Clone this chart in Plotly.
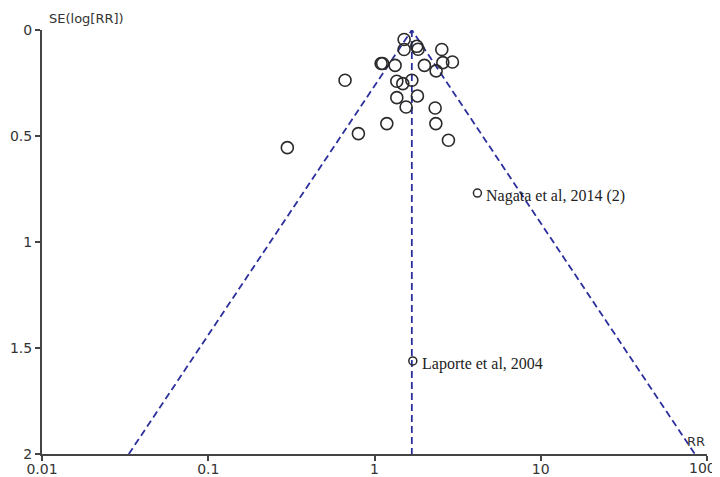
import math
import plotly.graph_objects as go

# Study estimates (risk ratio, standard error of log RR)
rr = [1.507, 1.507, 1.797, 1.829, 2.54, 1.096, 1.119, 1.33, 1.996, 2.348,
      2.576, 2.943, 0.665, 1.362, 1.48, 1.677, 1.362, 1.812, 1.549, 2.316,
      1.186, 2.339, 0.80, 2.784, 0.299]
se = [0.045, 0.092, 0.077, 0.091, 0.092, 0.158, 0.158, 0.167, 0.167, 0.193,
      0.154, 0.151, 0.237, 0.242, 0.253, 0.237, 0.319, 0.311, 0.363, 0.368,
      0.4415, 0.4415, 0.489, 0.520, 0.555]

labelled_names = ["Nagata et al, 2014 (2)", "Laporte et al, 2004"]
labelled_rr = [4.16, 1.70]
labelled_se = [0.769, 1.561]

pooled_rr = 1.677
se_max = 2.0
x_ticks = [0.01, 0.1, 1, 10, 100]
x_tick_text = ["0.01", "0.1", "1", "10", "100"]
y_ticks = [0, 0.5, 1, 1.5, 2]
y_tick_text = ["0", "0.5", "1", "1.5", "2"]

line_col = "#2b2f9c"
axis_col = "#444444"
mark_col = "#2a2a2a"

fig = go.Figure()

# funnel limits
lo = pooled_rr * math.exp(-1.96 * se_max)
hi = pooled_rr * math.exp(1.96 * se_max)
fig.add_trace(go.Scatter(x=[lo, pooled_rr, hi], y=[se_max, 0, se_max], mode="lines",
                         line=dict(color=line_col, width=1.8, dash="7px,4px"),
                         hoverinfo="skip", showlegend=False, cliponaxis=False))
fig.add_trace(go.Scatter(x=[pooled_rr, pooled_rr], y=[0, se_max], mode="lines",
                         line=dict(color=line_col, width=1.8, dash="7px,4px"),
                         hoverinfo="skip", showlegend=False))

fig.add_trace(go.Scatter(x=rr, y=se, mode="markers",
                         marker=dict(symbol="circle-open", size=12, color=mark_col,
                                     line=dict(color=mark_col, width=1.6)),
                         showlegend=False))
fig.add_trace(go.Scatter(x=labelled_rr, y=labelled_se, mode="markers",
                         marker=dict(symbol="circle-open", size=8, color=mark_col,
                                     line=dict(color=mark_col, width=1.5)),
                         showlegend=False))

for name, x, y in zip(labelled_names, labelled_rr, labelled_se):
    fig.add_annotation(x=math.log10(x), y=y, text=name, showarrow=False,
                       xanchor="left", yanchor="middle", xshift=7, yshift=-3,
                       font=dict(family="Liberation Serif", size=16, color="#222222"))

fig.add_annotation(xref="paper", yref="paper", x=0.008, y=1.0, text="SE(log[RR])",
                   showarrow=False, xanchor="left", yanchor="bottom", yshift=2,
                   font=dict(family="DejaVu Sans", size=13, color="#333333"))
fig.add_annotation(xref="paper", yref="paper", x=1.0, y=0.0, text="RR",
                   showarrow=False, xanchor="right", yanchor="bottom", yshift=3,
                   font=dict(family="DejaVu Sans", size=13, color="#333333"))
# last tick label sits flush with the right edge, as in the original
fig.add_annotation(xref="paper", yref="paper", x=1.0, y=0.0, text=x_tick_text[-1],
                   showarrow=False, xanchor="right", yanchor="top", xshift=11, yshift=-4,
                   font=dict(family="DejaVu Sans", size=14, color="#333333"))

# the page body adds an 8px offset, so the figure is sized to fit the window
fig.update_layout(
    width=712, height=469,
    margin=dict(l=34, r=13, t=22, b=23),
    paper_bgcolor="white", plot_bgcolor="white",
    font=dict(family="DejaVu Sans", size=14, color="#333333"),
    xaxis=dict(type="log", range=[-2, 2], tickvals=x_ticks,
               ticktext=x_tick_text[:-1] + [""],
               showgrid=False, zeroline=False, showline=True, linecolor=axis_col,
               linewidth=2, ticks="outside", ticklen=5, tickwidth=1.5,
               tickcolor=axis_col, ticklabelstandoff=-4, automargin=False,
               ticklabeloverflow="allow"),
    yaxis=dict(range=[2, 0], tickvals=y_ticks, ticktext=y_tick_text,
               showgrid=False, zeroline=False, showline=True, linecolor=axis_col,
               linewidth=2, ticks="outside", ticklen=5, tickwidth=1.5,
               tickcolor=axis_col, automargin=False, ticklabeloverflow="allow"),
)

fig.write_html("out.html")
